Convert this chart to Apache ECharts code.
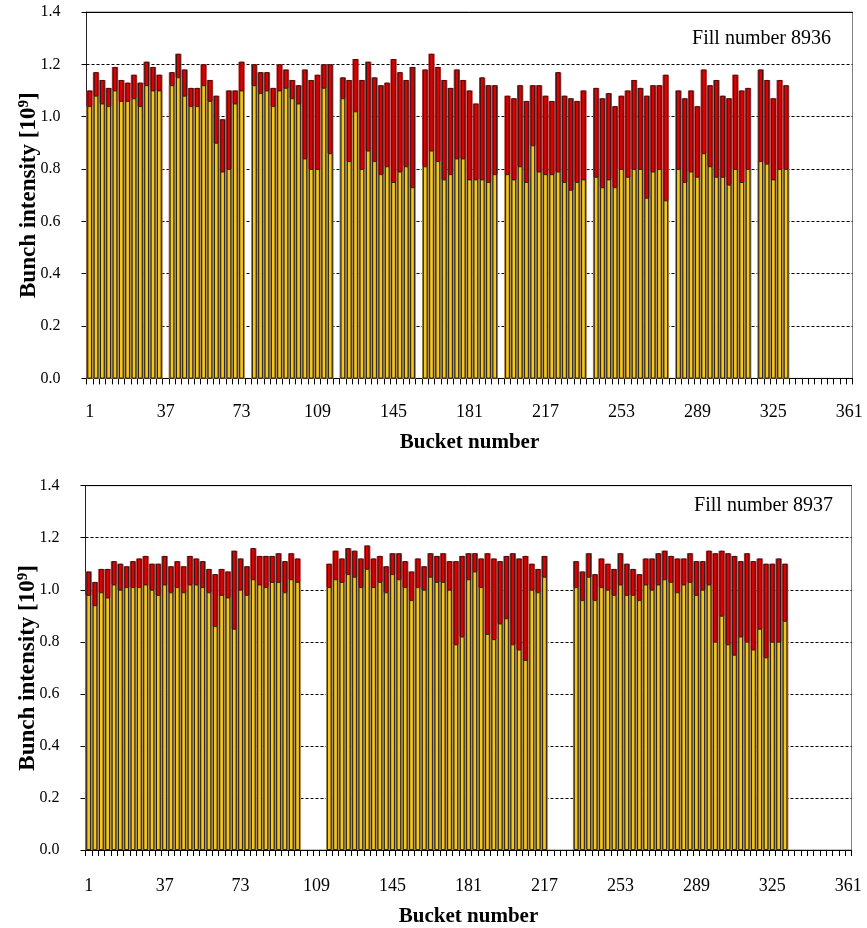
<!DOCTYPE html>
<html>
<head>
<meta charset="utf-8">
<script src="https://cdn.jsdelivr.net/npm/echarts@6/dist/echarts.min.js"></script>
<style>
html,body{margin:0;padding:0;background:#fff;}
#chart{width:867px;height:928px;}
</style>
</head>
<body>
<div id="chart"></div>
<script>
// Bucket numbers (category axis, one bar slot every 3 buckets)
var buckets = [
  1,4,7,10,13,16,19,22,25,28,31,34,
  37,40,43,46,49,52,55,58,61,64,67,70,
  73,76,79,82,85,88,91,94,97,100,103,106,
  109,112,115,118,121,124,127,130,133,136,139,142,
  145,148,151,154,157,160,163,166,169,172,175,178,
  181,184,187,190,193,196,199,202,205,208,211,214,
  217,220,223,226,229,232,235,238,241,244,247,250,
  253,256,259,262,265,268,271,274,277,280,283,286,
  289,292,295,298,301,304,307,310,313,316,319,322,
  325,328,331,334,337,340,343,346,349,352,355,358,
  361
];

// Fill 8936: injected (red, full bar) and remaining (yellow) intensity, 1e9
var injected8936 = [
  1.10,1.17,1.14,1.11,1.19,1.14,1.13,1.16,1.13,1.21,1.19,1.16,
  null,1.17,1.24,1.18,1.11,1.11,1.20,1.14,1.08,0.99,1.10,1.10,
  1.21,null,1.20,1.17,1.17,1.11,1.20,1.18,1.14,1.12,1.18,1.14,
  1.16,1.20,1.20,null,1.15,1.14,1.22,1.14,1.21,1.15,1.12,1.13,
  1.22,1.17,1.14,1.19,null,1.18,1.24,1.19,1.14,1.11,1.18,1.14,
  1.10,1.05,1.15,1.12,1.12,null,1.08,1.07,1.12,1.06,1.12,1.12,
  1.08,1.06,1.17,1.08,1.07,1.06,1.10,null,1.11,1.07,1.09,1.04,
  1.08,1.10,1.14,1.11,1.08,1.12,1.12,1.16,null,1.10,1.07,1.10,
  1.04,1.18,1.12,1.14,1.08,1.07,1.16,1.10,1.11,null,1.18,1.14,
  1.07,1.14,1.12,null,null,null,null,null,null,null,null,null,
  null
];
var remaining8936 = [
  1.04,1.08,1.05,1.04,1.10,1.06,1.06,1.07,1.04,1.12,1.10,1.10,
  null,1.12,1.15,1.08,1.04,1.04,1.12,1.06,0.90,0.79,0.80,1.05,
  1.10,null,1.12,1.09,1.10,1.04,1.10,1.11,1.07,1.05,0.84,0.80,
  0.80,1.11,0.86,null,1.07,0.83,1.02,0.80,0.87,0.83,0.78,0.81,
  0.75,0.79,0.81,0.73,null,0.81,0.87,0.83,0.76,0.78,0.84,0.84,
  0.76,0.76,0.76,0.75,0.78,null,0.78,0.76,0.81,0.75,0.89,0.79,
  0.78,0.78,0.79,0.75,0.72,0.75,0.76,null,0.77,0.73,0.76,0.73,
  0.80,0.77,0.80,0.80,0.69,0.79,0.80,0.68,null,0.80,0.75,0.79,
  0.77,0.86,0.81,0.77,0.77,0.74,0.80,0.75,0.80,null,0.83,0.82,
  0.76,0.80,0.80,null,null,null,null,null,null,null,null,null,
  null
];

// Fill 8937
var injected8937 = [
  1.07,1.03,1.08,1.08,1.11,1.10,1.09,1.11,1.12,1.13,1.10,1.10,
  1.13,1.09,1.11,1.09,1.13,1.12,1.11,1.08,1.06,1.08,1.07,1.15,
  1.12,1.09,1.16,1.13,1.13,1.13,1.14,1.11,1.14,1.12,null,null,
  null,null,1.10,1.15,1.12,1.16,1.15,1.12,1.17,1.12,1.13,1.09,
  1.14,1.14,1.11,1.07,1.12,1.09,1.14,1.13,1.14,1.11,1.11,1.13,
  1.14,1.14,1.12,1.14,1.12,1.11,1.13,1.14,1.12,1.13,1.10,1.08,
  1.13,null,null,null,null,1.11,1.07,1.14,1.06,1.12,1.10,1.08,
  1.14,1.10,1.08,1.06,1.12,1.12,1.14,1.15,1.13,1.12,1.12,1.14,
  1.11,1.11,1.15,1.14,1.15,1.14,1.13,1.11,1.14,1.11,1.12,1.10,
  1.10,1.12,1.10,null,null,null,null,null,null,null,null,null,
  null
];
var remaining8937 = [
  0.98,0.94,0.99,0.97,1.02,1.00,1.01,1.01,1.01,1.02,1.00,0.98,
  1.02,0.99,1.01,0.99,1.02,1.02,1.01,0.99,0.86,0.98,0.97,0.85,
  1.00,0.98,1.04,1.02,1.01,1.03,1.03,0.99,1.04,1.03,null,null,
  null,null,1.01,1.04,1.03,1.06,1.05,1.01,1.08,1.01,1.03,0.99,
  1.06,1.04,1.01,0.96,1.01,1.00,1.05,1.03,1.03,1.00,0.79,0.82,
  1.04,1.07,1.01,0.83,0.81,0.87,0.89,0.79,0.77,0.73,1.00,0.99,
  1.05,null,null,null,null,1.01,0.96,1.05,0.96,1.01,1.00,0.98,
  1.02,0.98,0.98,0.96,1.02,1.00,1.02,1.04,1.03,0.99,1.02,1.03,
  0.98,1.00,1.02,0.80,0.90,0.79,0.75,0.82,0.80,0.77,0.85,0.74,
  0.80,0.80,0.88,null,null,null,null,null,null,null,null,null,
  null
];

var fillLabels = ['Fill number 8936', 'Fill number 8937'];
var yTicks = [0, 0.2, 0.4, 0.6, 0.8, 1.0, 1.2, 1.4];

var SERIF = '"Liberation Serif", "Times New Roman", serif';
var RED = '#e00000';
var YELLOW = '#f6c814';
var RED_EDGE = '#b03a3a';
var YELLOW_EDGE = '#aa9e76';

var grids = [
  {left: 86.5, top: 12, width: 766, height: 366.4},
  {left: 85.5, top: 485.7, width: 766, height: 365.3}
];

var xAxes = [], yAxes = [], series = [], titles = [];
var injectedSets = [injected8936, injected8937];
var remainingSets = [remaining8936, remaining8937];
var titleTops = [23.5, 490.5];
var titleRights = [31, 29];
var labelMargins = [25, 27];
var nameGaps = [54, 56];

grids.forEach(function (g, i) {
  g.show = true;
  g.borderColor = '#808080';
  g.borderWidth = 1;
  g.backgroundColor = 'transparent';
  xAxes.push({
    type: 'category', gridIndex: i, data: buckets, position: 'bottom',
    boundaryGap: true,
    axisLine: {show: true, onZero: false, lineStyle: {color: '#000', width: 1}},
    axisTick: {show: true, interval: 0, length: 6, lineStyle: {color: '#000', width: 1}},
    axisLabel: {interval: 11, margin: labelMargins[i], fontFamily: SERIF, fontSize: 18, color: '#000'},
    splitLine: {show: false},
    name: 'Bucket number', nameLocation: 'middle', nameGap: nameGaps[i], nameMoveOverlap: false,
    nameTextStyle: {fontFamily: SERIF, fontWeight: 'bold', fontSize: 21, color: '#000'}
  });
  yAxes.push({
    type: 'value', gridIndex: i, min: yTicks[0], max: yTicks[yTicks.length - 1], interval: 0.2,
    axisLine: {show: true, lineStyle: {color: '#222', width: 1}},
    axisTick: {show: true, length: 5, lineStyle: {color: '#000'}},
    axisLabel: {margin: 26, fontFamily: SERIF, fontSize: 16, color: '#000',
      formatter: function (v) { return v.toFixed(1); }},
    splitLine: {show: true, lineStyle: {color: '#000', width: 1, type: [3, 2]}},
    name: 'Bunch intensity [10{sup|9}]', nameLocation: 'middle', nameRotate: 90, nameGap: 45,
    nameMoveOverlap: false,
    nameTextStyle: {fontFamily: SERIF, fontWeight: 'bold', fontSize: 23, color: '#000',
      rich: {sup: {fontFamily: SERIF, fontWeight: 'bold', fontSize: 15, color: '#000',
        verticalAlign: 'top', padding: [0, 0, 10, 0]}}}
  });
  titles.push({
    text: fillLabels[i], right: titleRights[i], top: titleTops[i],
    textStyle: {fontFamily: SERIF, fontWeight: 'normal', fontSize: 20, color: '#000'}
  });
});
// top frame lines (also carry the dark full-width bar seams)
grids.forEach(function (g, i) {
  xAxes.push({
    type: 'category', gridIndex: i, data: buckets, position: 'top',
    axisLine: {show: true, onZero: false, lineStyle: {color: '#000', width: 1}},
    axisTick: {show: false}, axisLabel: {show: false}, splitLine: {show: false}
  });
});
grids.forEach(function (g, i) {
  series.push({
    type: 'bar', xAxisIndex: 2 + i, yAxisIndex: i, data: injectedSets[i],
    barWidth: '100%', barGap: '-100%', silent: true,
    itemStyle: {color: RED_EDGE}
  });
  series.push({
    type: 'bar', xAxisIndex: 2 + i, yAxisIndex: i, data: remainingSets[i],
    barWidth: '100%', barGap: '-100%', silent: true,
    itemStyle: {color: YELLOW_EDGE}
  });
  series.push({
    type: 'bar', xAxisIndex: i, yAxisIndex: i, data: injectedSets[i],
    barWidth: '70%', barGap: '-100%',
    itemStyle: {color: RED, borderColor: '#111', borderWidth: 0.8}
  });
  series.push({
    type: 'bar', xAxisIndex: i, yAxisIndex: i, data: remainingSets[i],
    barWidth: '70%', barGap: '-100%',
    itemStyle: {color: YELLOW, borderColor: '#111', borderWidth: 0.8}
  });
});

var chart = echarts.init(document.getElementById('chart'), null, {renderer: 'canvas'});
chart.setOption({
  animation: false,
  backgroundColor: '#fff',
  title: titles,
  grid: grids,
  xAxis: xAxes,
  yAxis: yAxes,
  series: series
});
</script>
</body>
</html>
